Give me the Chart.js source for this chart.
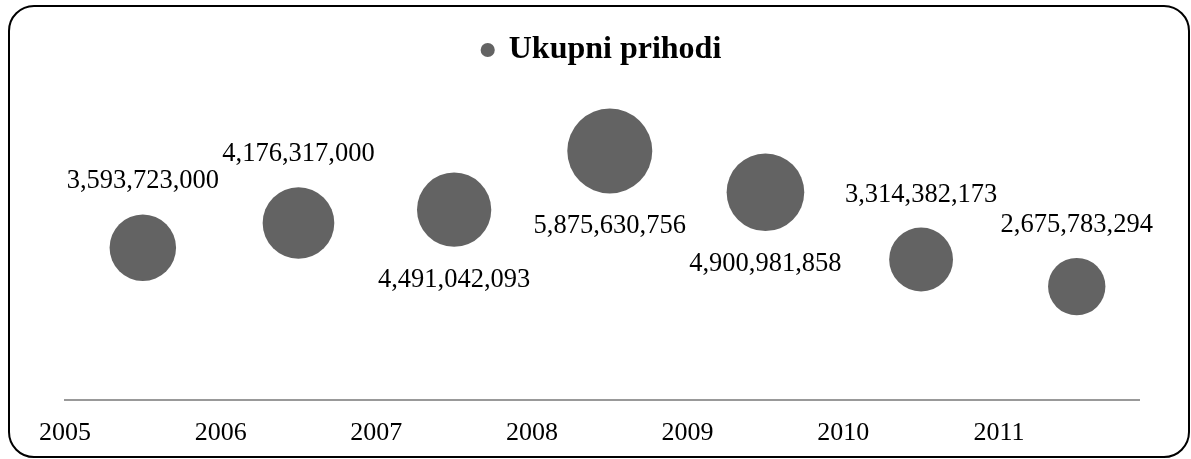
<!DOCTYPE html>
<html>
<head>
<meta charset="utf-8">
<script src="https://cdn.jsdelivr.net/npm/chart.js@4"></script>
<style>
  body { margin: 0; background: #fff; }
  #wrap { width: 1191px; height: 459px; }
</style>
</head>
<body>
<div id="wrap"><canvas id="chart" width="1191" height="459"></canvas></div>
<script>
// Data
const years = [2005, 2006, 2007, 2008, 2009, 2010, 2011];
const revenues = [3593723000, 4176317000, 4491042093, 5875630756, 4900981858, 3314382173, 2675783294];
// where each value label sits relative to its bubble
const labelSides = ['top', 'top', 'bottom', 'bottom', 'bottom', 'top', 'top'];
const seriesName = 'Ukupni prihodi';

const bubbleColor = '#636363';
const maxRadius = 42.5;
const serif = "'Liberation Serif', 'Times New Roman', serif";

// bubble area proportional to value, bubbles sit mid-year
const maxRevenue = Math.max(...revenues);
const points = revenues.map((v, i) => ({
    x: years[i] + 0.5,
    y: v,
    r: maxRadius * Math.sqrt(v / maxRevenue)
}));

// rounded frame around the whole chart
const framePlugin = {
    id: 'frame',
    beforeDraw(chart) {
        const ctx = chart.ctx;
        ctx.save();
        ctx.fillStyle = '#fff';
        ctx.fillRect(0, 0, chart.width, chart.height);
        ctx.beginPath();
        ctx.roundRect(9, 6, 1180, 451, 25);
        ctx.lineWidth = 2;
        ctx.strokeStyle = '#000';
        ctx.stroke();
        ctx.restore();
    }
};

// value labels above / below each bubble
const valueLabels = {
    id: 'valueLabels',
    afterDatasetsDraw(chart) {
        const ctx = chart.ctx;
        const meta = chart.getDatasetMeta(0);
        ctx.save();
        ctx.font = '26.5px ' + serif;
        ctx.fillStyle = '#000';
        ctx.textAlign = 'center';
        ctx.textBaseline = 'middle';
        meta.data.forEach((el, i) => {
            const r = el.options.radius;
            const off = r + 33;
            const y = labelSides[i] === 'top' ? el.y - off : el.y + off;
            ctx.fillText(revenues[i].toLocaleString('en-US'), el.x, y);
        });
        ctx.restore();
    }
};

new Chart(document.getElementById('chart'), {
    type: 'bubble',
    data: {
        datasets: [{
            label: seriesName,
            data: points,
            backgroundColor: bubbleColor,
            borderColor: bubbleColor,
            borderWidth: 0,
            clip: false
        }]
    },
    options: {
        responsive: false,
        animation: false,
        layout: {
            padding: { left: 65, right: 52, top: 24, bottom: -7 }
        },
        plugins: {
            legend: {
                position: 'top',
                labels: {
                    usePointStyle: true,
                    pointStyle: 'circle',
                    boxWidth: 10,
                    boxHeight: 10,
                    color: '#000',
                    font: { family: serif, size: 32, weight: 'bold' }
                }
            },
            tooltip: { enabled: false }
        },
        scales: {
            x: {
                type: 'linear',
                min: 2005,
                max: 2011.9,
                grid: { display: false, drawTicks: false },
                border: { display: true, color: '#999', width: 2 },
                afterBuildTicks(scale) {
                    scale.ticks = years.map(y => ({ value: y }));
                },
                ticks: {
                    padding: 20,
                    color: '#000',
                    font: { family: serif, size: 26, lineHeight: 1 },
                    callback: v => String(v),
                    maxRotation: 0
                }
            },
            y: {
                display: false,
                min: 0,
                max: 7645000000
            }
        }
    },
    plugins: [framePlugin, valueLabels]
});
</script>
</body>
</html>
